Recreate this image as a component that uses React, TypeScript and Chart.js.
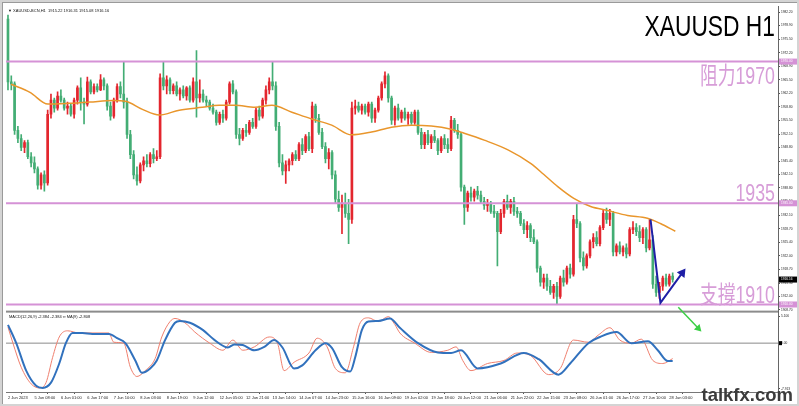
import React, { useEffect, useRef } from "react";
import { Chart, registerables } from "chart.js";
Chart.register(...registerables);

// ---- 2-hour candles (each spans two hourly slots on the time axis) ----
const opens = [1980.5,1965,1964.5,1953,1951,1948.8,1950,1946.5,1945,1943.5,1939.5,1942,1940,1957,1960.5,1958.5,1961.5,1960.5,1958.5,1959,1957,1960.5,1963.5,1960,1959.5,1965,1962.5,1963.8,1963,1965.5,1964,1959,1956.5,1960.5,1963.8,1962,1960,1952,1947,1942,1940.5,1944.5,1945.5,1944.8,1947,1946,1946.5,1966,1964,1965.5,1962.8,1964,1962,1963,1961.5,1963.5,1960.5,1965,1961,1962,1960.5,1960,1958.5,1957.5,1955,1957,1956,1960,1964.5,1962.5,1952,1951,1953,1952.5,1955,1954,1958,1956.5,1960.5,1963,1965,1964,1954,1945,1943,1944.5,1945.5,1947,1946,1949.5,1948,1951.5,1948.5,1959,1956,1952.5,1949,1946,1947.5,1942,1936,1934,1935,1932.5,1931,1958.5,1959,1958,1959,1957.5,1959.5,1956,1958,1961,1964.5,1966.5,1961,1955.5,1958.5,1956,1957.5,1956,1957,1955,1957.5,1952.5,1949.5,1952,1950,1951.5,1950.5,1948,1951,1949.5,1948.5,1955.5,1953,1952,1939,1934,1937.5,1936.5,1938,1937,1935.5,1934.5,1935,1933,1932.5,1928,1932.5,1935.5,1934,1935.5,1933,1932.5,1930,1928.5,1929.5,1926.5,1925.5,1919,1915.5,1916.5,1914.5,1913,1914.5,1912,1916.5,1915.5,1919,1917.5,1931,1930,1921.5,1919.5,1922,1925.5,1926.5,1925,1929,1932.5,1931,1932.5,1923,1924.5,1923,1924,1922.5,1928.5,1929,1928,1926.5,1928.5,1924,1926,1915,1913,1914.5,1916.5,1915,1917];
const highs = [1981.5,1966.5,1965,1954,1952,1950.5,1950.6,1947.5,1946.5,1944,1942.5,1943,1958,1962,1961,1962.5,1963,1961,1960,1959.5,1961,1964,1966,1961,1966.2,1965.5,1964.5,1964.5,1966.8,1966,1964.5,1960,1961,1964.5,1965,1969.8,1961,1953,1948,1944,1945,1946.5,1947,1947.5,1948.5,1948,1967,1970,1966.5,1966,1964.5,1965,1963.5,1964,1963.8,1964,1966,1972.7,1965.5,1963,1961.5,1960.5,1959.5,1958,1957.5,1958,1960.5,1965,1965.3,1963,1953.5,1953.5,1954.5,1955.5,1956,1958.5,1959,1961,1964,1966,1969.8,1965,1955,1947,1945.5,1946,1947.5,1948,1950,1951,1952,1952.5,1960,1959.5,1957,1953.5,1950,1948.5,1948,1943,1938,1937,1937.5,1936,1960,1960.5,1960,1959.5,1959.5,1960,1960,1958.5,1961.5,1965,1967.5,1967,1961.5,1959,1959.5,1958,1958.5,1957.5,1957.5,1958,1958,1953.5,1952.5,1953,1952,1953,1951,1951.5,1952,1951,1956.5,1956,1954.5,1952.5,1939.5,1938,1939,1938.5,1939.2,1938,1936.5,1936,1935.5,1934.5,1933,1933.5,1936,1937,1936,1936.5,1934,1933,1931,1930.5,1930,1928.5,1926,1919.5,1917.5,1917.5,1916,1915,1915.5,1917,1918.5,1919.5,1920,1932,1935,1930.5,1923,1922.5,1926,1927.5,1928,1929.5,1933.5,1933.8,1933.5,1933,1925,1925.5,1924.5,1925,1929,1930.5,1930,1929.5,1929,1929,1931,1927,1917,1915.5,1917,1917.5,1917.5,1917.8];
const lows = [1963,1963,1952,1950,1948,1947.5,1946,1944,1942.5,1938.5,1938.5,1938,1939.5,1956,1957.5,1958,1960,1958,1957,1956.5,1956,1959.5,1958,1954.6,1959,1962,1962,1962.5,1962.8,1963,1958,1955.5,1956,1960,1961,1958.5,1951,1946,1941,1939.5,1940,1943,1944,1944,1945,1945.5,1946,1963,1962,1962,1962,1961.5,1960.5,1961,1960.5,1960,1960,1956.3,1960,1960,1959,1958,1957,1954.3,1954.5,1955,1955.5,1959.5,1962,1951,1949.4,1950.5,1951.5,1952,1953.5,1953.5,1955.5,1956,1959.5,1962,1963,1953,1944,1942,1939.9,1943,1944.5,1945.5,1945.5,1947,1947.5,1948,1947.5,1955,1952,1948.5,1945,1943.5,1941,1935,1933,1927.5,1931.5,1925,1930,1957,1957.5,1957,1957,1956.5,1955,1955,1957.5,1960.5,1963.5,1960,1954.5,1954.3,1955.5,1955,1955.5,1954.5,1954.5,1954.5,1952,1948.5,1948.5,1949.5,1948.5,1950,1947,1947.5,1948.5,1947.5,1948,1952.5,1951,1938,1929.8,1933,1935.5,1935.5,1936,1935,1933.5,1933,1932.5,1931.5,1919.5,1927.5,1931.5,1933.5,1932.5,1932,1931.5,1929.5,1927.5,1926.5,1925.5,1925,1918,1914.5,1914,1913.5,1912.5,1911.5,1910.2,1911.5,1914.5,1915,1916.5,1917,1929,1920.5,1918.5,1919,1921.5,1924,1924.5,1924.5,1928.5,1930,1929.5,1922,1922,1922.5,1922,1921.5,1922,1927.5,1927,1925.5,1925,1923,1923.5,1914,1912,1911.5,1913.5,1914.5,1914.5,1915.5];
const closes = [1965,1964.5,1953,1951,1948.8,1950,1946.5,1945,1943.5,1939.5,1942,1940,1957,1960.5,1958.5,1961.5,1960.5,1958.5,1959,1957,1960.5,1963.5,1960,1959.5,1965,1962.5,1963.8,1963,1965.5,1964,1959,1956.5,1960.5,1963.8,1962,1960,1952,1947,1942,1940.5,1944.5,1945.5,1944.8,1947,1946,1946.5,1966,1964,1965.5,1962.8,1964,1962,1963,1961.5,1963.5,1960.5,1965,1961,1962,1960.5,1960,1958.5,1957.5,1955,1957,1956,1960,1964.5,1962.5,1952,1951,1953,1952.5,1955,1954,1958,1956.5,1960.5,1963,1965,1964,1954,1945,1943,1944.5,1945.5,1947,1946,1949.5,1948,1951.5,1948.5,1959,1956,1952.5,1949,1946,1947.5,1942,1936,1934,1935,1932.5,1931,1958.5,1959,1958,1959,1957.5,1959.5,1956,1958,1961,1964.5,1966.5,1961,1955.5,1958.5,1956,1957.5,1956,1957,1955,1957.5,1952.5,1949.5,1952,1950,1951.5,1950.5,1948,1951,1949.5,1948.5,1955.5,1953,1952,1939,1934,1937.5,1936.5,1938,1937,1935.5,1934.5,1935,1933,1932.5,1928,1932.5,1935.5,1934,1935.5,1933,1932.5,1930,1928.5,1929.5,1926.5,1925.5,1919,1915.5,1916.5,1914.5,1913,1914.5,1912,1916.5,1915.5,1919,1917.5,1931,1930,1921.5,1919.5,1922,1925.5,1926.5,1925,1929,1932.5,1931,1932.5,1923,1924.5,1923,1924,1922.5,1928.5,1929,1928,1926.5,1928.5,1924,1926,1915,1913,1914.5,1916.5,1915,1917,1916.2];
const BAR_STEP = 2;

// ---- moving average (orange) ----
const maBars = [1.8,13.3,24.1,37.3,49.4,63.3,71.1,81.3,91.6,103.6,117.5,127.7,137.3,149.4,159.6,171.7,183.7,195.8,207.8,219.9,231.9,244,256,268,275.9,288,302.4,316.3,324.1,332.5,342.2,352.4,362.7,374.7,386.7,394.6,403.6];
const maValues = [1964.4,1962.4,1959.5,1959.7,1960.0,1960.4,1960.2,1958.2,1956.8,1958.0,1958.7,1959.2,1959.2,1958.7,1959.2,1957.5,1955.8,1954.3,1951.9,1952.6,1953.8,1954.3,1954.1,1953.3,1952.3,1950.6,1948.2,1944.8,1942.1,1939.1,1936.2,1934.2,1933.2,1932.0,1931.3,1930.0,1928.1];

// ---- MACD panel ----
const macdBars = [0,5,11,17,21,26,31,35,39,45,51,61,66,71,77,81,86,90,95,101,104,110,118,125,133,137,142,149,155,161,166,173,178,186,192,196,202,207,210,214,218,224,231,237,248,260,268,274,284,298,312,321,333,340,351,358,368,377,387,393,399,402];
const macdValues = [2.97,0,-4.45,-6.9,-7.25,-6.4,-3.3,0,1.65,1.65,1.5,1.5,0.8,0,-2.8,-4.8,-4.1,-2.8,0.5,3.3,3.6,3.3,2.1,0.5,-0.7,-0.2,-0.3,-1.15,-0.6,0.5,-0.7,-4.1,-3.6,-1.15,0,-0.8,-3.9,-4.6,-2.3,2.1,3.5,3.6,4.0,2.5,0,-1.5,-1.6,-1.15,-4.1,-3.3,-1.6,-2.6,-5.1,-3.3,0,1.0,1.8,0,0.3,-1.15,-2.9,-2.9];
const signalBars = [0,3,8,14,19,23,27,31,36,43,49,61,64,70,74,78,83,89,93,98,101,107,113,122,130,136,142,149,158,163,167,173,182,187,193,198,204,209,213,218,224,230,234,237,246,256,266,271,275,280,290,300,308,316,327,334,342,351,357,364,370,377,383,390,396,402];
const signalValues = [2.6,0,-3.9,-6.6,-7.25,-6.4,-2.3,1.0,2.0,1.65,1.65,1.65,0.15,0,-3.9,-5.4,-4.45,-2.5,1.0,3.5,4.0,3.3,1.8,0,-1.15,0.5,-1.15,-0.6,1.0,0,-4.45,-3.1,-1.6,0.8,-0.6,-4.1,-4.8,-0.6,3.3,4.1,3.5,4.3,3.0,1.65,0,-1.5,-1.15,-0.6,-2.8,-4.45,-3.3,-2.8,-1.6,-2.0,-5.1,-4.1,0.5,0.15,1.3,2.5,0.5,0,0.65,-2.8,-3.3,-2.5];
const macdMin = -7.913;
const macdMax = 5.106;
const macdTickValues = [4.3, 0, -7.4];
const macdTickLabels = ["5.106", "0.00", "-7.913"];

// ---- levels & annotations ----
const levels = [1970, 1935, 1910];
const levelTexts = ["阻力1970", "1935", "支撐1910"];
const levelTextOffsets = [22, -2, -1];
const lastPrice = 1916.16;
const trendBars = [388.6, 394.6, 407.8];
const trendValues = [1931, 1910.4, 1917.8];
const arrowBars = [405.4, 417.5];
const arrowValues = [5.8, 2.4];

// ---- axes ----
const priceMin = 1908.24;
const priceMax = 1983.73;
const priceTicks = [1982.2,1978.9,1975.5,1972.2,1968.9,1965.5,1962.2,1958.8,1955.5,1952.1,1948.8,1945.4,1942.1,1938.8,1935.5,1932.1,1928.7,1925.4,1922.0,1918.7,1915.3,1912.0,1908.7];
const xMin = -1.2;
const xMax = 465.7;
const dateTickBars = [0,16,32,48,64,80,96,112,128,144,160,176,192,208,224,240,256,272,288,304,320,336,352,368,384,400];
const dateLabels = ["2 Jun 2023","5 Jun 08:00","6 Jun 01:00","6 Jun 17:00","7 Jun 10:00","8 Jun 03:00","8 Jun 19:00","9 Jun 12:00","12 Jun 05:00","12 Jun 21:00","13 Jun 14:00","14 Jun 07:00","14 Jun 23:00","15 Jun 16:00","16 Jun 09:00","19 Jun 02:00","19 Jun 18:00","20 Jun 12:00","21 Jun 06:00","21 Jun 22:00","22 Jun 15:00","23 Jun 08:00","26 Jun 01:00","26 Jun 17:00","27 Jun 10:00","28 Jun 03:00"];

const headerText = "▼ XAUUSD-BCN,H1  1915.22 1916.31 1915.08 1916.16";
const macdText = "MACD(12,26,9) -2.384 -2.384 ∞ MA(9) -2.808";
const titleText = "XAUUSD H1";
const watermark = "talkfx.com";

const RED = "#e3262e";
const GREEN = "#43ad74";
const PINK = "#d592d6";
const PINK_TEXT = "#d79dd8";
const ORANGE = "#e9962c";

function scaledText(ctx: CanvasRenderingContext2D, text: string, x: number, y: number, font: string, color: string, sx: number, align: CanvasTextAlign = "right") {
  ctx.save();
  ctx.translate(x, y);
  ctx.scale(sx, 1);
  ctx.font = font;
  ctx.fillStyle = color;
  ctx.textAlign = align;
  ctx.textBaseline = "alphabetic";
  ctx.fillText(text, 0, 0);
  ctx.restore();
}

const decor = {
  id: "decor",
  beforeDraw(chart: any) {
    const { ctx, width, height } = chart;
    ctx.save();
    ctx.fillStyle = "#fff";
    ctx.fillRect(0, 0, width, height);
    ctx.restore();
  },
  beforeDatasetsDraw(chart: any) {
    const { ctx, chartArea } = chart;
    const y2 = chart.scales.y2;
    ctx.save();
    ctx.fillStyle = "#8c8c8c";
    ctx.fillRect(chartArea.left, y2.top - 1, chartArea.right - chartArea.left, 2);
    ctx.restore();
  },
  afterDraw(chart: any) {
    const { ctx, chartArea, width, height } = chart;
    const ys = chart.scales.y;
    const y2 = chart.scales.y2;
    const right = chartArea.right;
    // header texts
    ctx.save();
    ctx.font = '4px "Liberation Sans"';
    ctx.fillStyle = "#111";
    ctx.textBaseline = "middle";
    ctx.textAlign = "left";
    ctx.fillText(headerText, chartArea.left + 2, chartArea.top + 5);
    ctx.fillText(macdText, chartArea.left + 3, y2.top + 5);
    ctx.restore();
    // title
    scaledText(ctx, titleText, right - 3, chartArea.top + 30, '30px "Liberation Sans"', "#000", 0.76);
    // level texts
    levels.forEach((v, i) => {
      const py = ys.getPixelForValue(v);
      scaledText(ctx, levelTexts[i], right - 3, py + levelTextOffsets[i], '24px "Liberation Sans", "Noto Sans CJK TC"', PINK_TEXT, 0.74);
    });
    // axis boxes
    ctx.save();
    ctx.font = '3.2px "Liberation Sans"';
    ctx.textBaseline = "middle";
    ctx.textAlign = "left";
    levels.forEach((v) => {
      const py = ys.getPixelForValue(v);
      ctx.fillStyle = PINK;
      ctx.fillRect(right + 1, py - 3, 18, 6);
      ctx.fillStyle = "#fff";
      ctx.fillText(v.toFixed(2), right + 3, py);
    });
    const lp = ys.getPixelForValue(lastPrice);
    ctx.fillStyle = "#000";
    ctx.fillRect(right + 1, lp - 3, 18, 6);
    ctx.fillStyle = "#fff";
    ctx.fillText(lastPrice.toFixed(2), right + 3, lp);
    const zp = y2.getPixelForValue(0);
    ctx.fillStyle = "#000";
    ctx.fillRect(right + 1, zp - 2, 3, 4);
    ctx.restore();
    // watermark
    ctx.save();
    ctx.font = 'bold 18.5px "Liberation Sans"';
    ctx.fillStyle = "#3c3c3c";
    ctx.textAlign = "right";
    ctx.textBaseline = "alphabetic";
    ctx.fillText(watermark, width - 6, height - 5);
    ctx.restore();
    // window frame
    ctx.save();
    ctx.fillStyle = "#d4d4d4";
    ctx.fillRect(0, 0, width, 2);
    ctx.fillRect(0, 0, 2, height);
    ctx.fillRect(0, height - 2, width, 2);
    ctx.fillRect(width - 2, 0, 2, height);
    ctx.fillStyle = "#9a9a9a";
    ctx.fillRect(2, 2, 1, height - 4);
    ctx.fillRect(2, 2, width - 4, 1);
    ctx.restore();
  },
};

export default function App() {
  const ref = useRef<HTMLCanvasElement>(null);
  useEffect(() => {
    const canvas = ref.current;
    if (!canvas) return;
    const candleX = closes.map((_, k) => k * BAR_STEP);
    const colors = closes.map((c, k) => (c >= opens[k] ? RED : GREEN));
    const axisFont = { family: "Liberation Sans", size: 3.2 };
    const chart = new Chart(canvas, {
      type: "line",
      data: {
        datasets: [
          ...levels.map((v) => ({
            type: "line" as const,
            data: [{ x: xMin, y: v }, { x: xMax, y: v }],
            borderColor: PINK,
            borderWidth: 2,
            pointRadius: 0,
            yAxisID: "y",
            order: -1,
          })),
          {
            type: "line" as const,
            data: maBars.map((b, i) => ({ x: b, y: maValues[i] })),
            borderColor: ORANGE,
            borderWidth: 1.5,
            pointRadius: 0,
            cubicInterpolationMode: "monotone" as const,
            yAxisID: "y",
            order: 0,
          },
          {
            type: "bar" as const,
            data: candleX.map((x, k) => ({ x, y: [lows[k], highs[k]] })),
            backgroundColor: colors,
            barThickness: 1,
            grouped: false,
            borderWidth: 0,
            yAxisID: "y",
            order: 2,
          },
          {
            type: "bar" as const,
            data: candleX.map((x, k) => ({ x, y: [opens[k], closes[k]] })),
            backgroundColor: colors,
            barThickness: 2,
            grouped: false,
            minBarLength: 1,
            borderWidth: 0,
            yAxisID: "y",
            order: 1,
          },
          {
            type: "line" as const,
            data: trendBars.map((b, i) => ({ x: b, y: trendValues[i] })),
            borderColor: "#1f1fa6",
            backgroundColor: "#1f1fa6",
            borderWidth: 2,
            pointRadius: [0, 0, 3.5],
            pointStyle: "triangle",
            rotation: [0, 0, 36],
            yAxisID: "y",
            order: -3,
          },
          {
            type: "line" as const,
            data: [{ x: xMin, y: 0 }, { x: xMax, y: 0 }],
            borderColor: "#8a8a8a",
            borderWidth: 1,
            pointRadius: 0,
            yAxisID: "y2",
            order: 5,
          },
          {
            type: "line" as const,
            data: signalBars.map((b, i) => ({ x: b, y: signalValues[i] })),
            borderColor: "#f0806f",
            borderWidth: 1,
            pointRadius: 0,
            cubicInterpolationMode: "monotone" as const,
            yAxisID: "y2",
            order: 4,
          },
          {
            type: "line" as const,
            data: macdBars.map((b, i) => ({ x: b, y: macdValues[i] })),
            borderColor: "#3171bd",
            borderWidth: 2,
            pointRadius: 0,
            cubicInterpolationMode: "monotone" as const,
            yAxisID: "y2",
            order: 3,
          },
          {
            type: "line" as const,
            data: arrowBars.map((b, i) => ({ x: b, y: arrowValues[i] })),
            borderColor: "#3ccf46",
            backgroundColor: "#3ccf46",
            borderWidth: 1.5,
            pointRadius: [0, 3],
            pointStyle: "triangle",
            rotation: [0, 136],
            clip: false,
            yAxisID: "y2",
            order: -4,
          },
        ] as any,
      },
      options: {
        animation: false,
        responsive: false,
        maintainAspectRatio: false,
        events: [],
        layout: { padding: { left: 3, top: 3, right: 0, bottom: 3 } },
        plugins: { legend: { display: false }, tooltip: { enabled: false } },
        scales: {
          x: {
            type: "linear",
            min: xMin,
            max: xMax,
            offset: false,
            position: "bottom",
            grid: { drawOnChartArea: false, tickLength: 2, color: "#555" },
            border: { color: "#777" },
            afterBuildTicks: (s: any) => {
              s.ticks = dateTickBars.map((v) => ({ value: v }));
            },
            afterFit: (s: any) => {
              s.height = 11;
            },
            ticks: {
              autoSkip: false,
              maxRotation: 0,
              minRotation: 0,
              align: "start",
              padding: 1,
              color: "#222",
              font: { family: "Liberation Sans", size: 4 },
              callback: (_v: any, i: number) => dateLabels[i],
            },
          },
          y: {
            type: "linear",
            position: "right",
            stack: "panes",
            stackWeight: 308,
            min: priceMin,
            max: priceMax,
            grid: { drawOnChartArea: false, tickLength: 2, color: "#555" },
            border: { color: "#666" },
            afterBuildTicks: (s: any) => {
              s.ticks = priceTicks.map((v) => ({ value: v }));
            },
            afterFit: (s: any) => {
              s.width = 21;
            },
            ticks: {
              autoSkip: false,
              padding: 1,
              color: "#222",
              font: axisFont,
              callback: (v: any) => Number(v).toFixed(2),
            },
          },
          y2: {
            type: "linear",
            position: "right",
            stack: "panes",
            stackWeight: 81,
            min: macdMin,
            max: macdMax,
            grid: { drawOnChartArea: false, tickLength: 2, color: "#555" },
            border: { color: "#666" },
            afterBuildTicks: (s: any) => {
              s.ticks = macdTickValues.map((v) => ({ value: v }));
            },
            afterFit: (s: any) => {
              s.width = 21;
            },
            ticks: {
              autoSkip: false,
              padding: 1,
              color: "#222",
              font: axisFont,
              callback: (_v: any, i: number) => macdTickLabels[i],
            },
          },
        },
      } as any,
      plugins: [decor],
    });
    return () => chart.destroy();
  }, []);
  return (
    <div style={{ position: "absolute", left: 0, top: 0, width: 799, height: 406, background: "#fff" }}>
      <canvas ref={ref} width={799} height={406} style={{ display: "block", width: "799px", height: "406px" }} />
    </div>
  );
}
